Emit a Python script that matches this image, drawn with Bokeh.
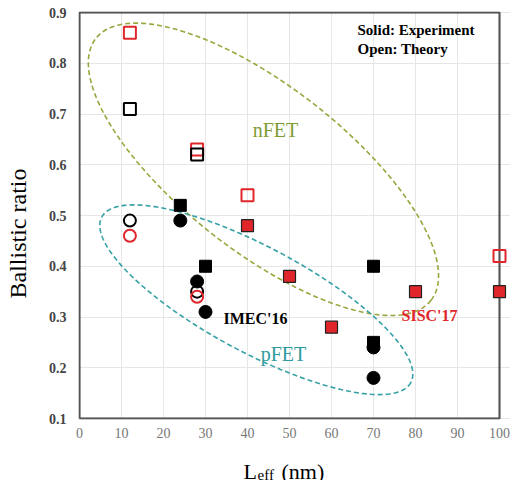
import numpy as np
from bokeh.plotting import figure
from bokeh.layouts import column
from bokeh.models import Range1d, Label, FixedTicker, BoxAnnotation, Title
from bokeh.core.properties import value
from bokeh.embed import file_html
from bokeh.resources import INLINE

# ---- data ----
x_ticks = [0, 10, 20, 30, 40, 50, 60, 70, 80, 90, 100]
y_ticks = [0.1, 0.2, 0.3, 0.4, 0.5, 0.6, 0.7, 0.8, 0.9]

sisc_theory_sq_x = [12, 28, 40, 100]
sisc_theory_sq_y = [0.86, 0.63, 0.54, 0.42]
imec_theory_sq_x = [12, 28]
imec_theory_sq_y = [0.71, 0.62]
imec_exp_sq_x = [24, 30, 70, 70]
imec_exp_sq_y = [0.52, 0.40, 0.40, 0.25]
sisc_exp_sq_x = [40, 50, 60, 80, 100]
sisc_exp_sq_y = [0.48, 0.38, 0.28, 0.35, 0.35]
imec_exp_circ_x = [24, 28, 30, 70, 70]
imec_exp_circ_y = [0.49, 0.37, 0.31, 0.24, 0.18]
imec_theory_circ_x = [12, 28]
imec_theory_circ_y = [0.49, 0.35]
sisc_theory_circ_x = [12, 28]
sisc_theory_circ_y = [0.46, 0.34]

# ellipse annotations: centre, two conjugate semi-axis vectors (data units)
nfet_center = (43.8, 0.591)
nfet_u = (39.9, -0.258)
nfet_v = (-12.1, -0.128)
pfet_center = (42.1, 0.334)
pfet_u = (36.8, -0.163)
pfet_v = (-5.9, -0.0914)

RED = "#e0262b"
OLIVE = "#9aa63c"
TEAL = "#35a0a6"
FRAME = "#555555"
SERIF = "Liberation Serif"

XS = 4.2      # px per nm
YS = 507.5    # px per unit ratio
X_RANGE = (x_ticks[0] - 1 / XS, x_ticks[-1] + 12 / XS)

p = figure(frame_width=433, frame_height=408, output_backend="svg",
           toolbar_location=None,
           x_range=Range1d(*X_RANGE),
           y_range=Range1d(y_ticks[0] - 1 / YS, y_ticks[-1] + 1 / YS),
           min_border_left=77, min_border_right=0, min_border_top=11,
           min_border_bottom=32)
p.background_fill_color = "white"
p.border_fill_color = "white"
p.outline_line_color = None

p.xaxis.ticker = FixedTicker(ticks=x_ticks)
p.yaxis.ticker = FixedTicker(ticks=y_ticks)
for ax in (p.xaxis[0], p.yaxis[0]):
    ax.axis_line_color = None
    ax.major_tick_line_color = None
    ax.minor_tick_line_color = None
    ax.major_tick_out = 0
    ax.major_tick_in = 0
    ax.minor_tick_out = 0
    ax.minor_tick_in = 0
    ax.major_label_text_font = SERIF
p.xaxis.major_label_text_font_size = "14px"
p.xaxis.major_label_text_color = "#777777"
p.xaxis.major_label_standoff = 8
p.yaxis.major_label_text_font_size = "14px"
p.yaxis.major_label_text_font_style = "bold"
p.yaxis.major_label_text_color = "#444444"
p.yaxis.major_label_standoff = 12
p.yaxis.formatter.use_scientific = False
p.xgrid.grid_line_color = "#e6e6e6"
p.ygrid.grid_line_color = "#e6e6e6"

# y-axis title: a thin blank spacer, then the title nudged along the axis
p.add_layout(Title(text=" ", text_font_size="1px", standoff=10), "left")
p.add_layout(Title(text="Ballistic ratio", align="left", offset=121,
                   text_font=SERIF, text_font_size="24px",
                   text_font_style="normal", text_color="black",
                   standoff=4), "left")

# plot frame (box around the axes area)
p.add_layout(BoxAnnotation(left=x_ticks[0], right=x_ticks[-1],
                           bottom=y_ticks[0], top=y_ticks[-1],
                           fill_color=None, fill_alpha=0,
                           line_color=FRAME, line_width=2,
                           level="underlay"))
p.line([x_ticks[0], x_ticks[-1], x_ticks[-1], x_ticks[0], x_ticks[0]],
       [y_ticks[0], y_ticks[0], y_ticks[-1], y_ticks[-1], y_ticks[0]],
       line_color=FRAME, line_width=2)

# ellipses
t = np.linspace(0, 2 * np.pi, 300)
for c, u, v, col in ((nfet_center, nfet_u, nfet_v, OLIVE),
                     (pfet_center, pfet_u, pfet_v, TEAL)):
    ex = c[0] + u[0] * np.cos(t) + v[0] * np.sin(t)
    ey = c[1] + u[1] * np.cos(t) + v[1] * np.sin(t)
    p.line(ex, ey, line_color=col, line_width=1.6, line_dash="5 3")

# markers
p.scatter(sisc_theory_sq_x, sisc_theory_sq_y, marker="square", size=12,
          fill_color="white", fill_alpha=0, line_color=RED, line_width=2)
p.scatter(imec_theory_sq_x, imec_theory_sq_y, marker="square", size=12,
          fill_color="white", fill_alpha=0, line_color="black", line_width=2)
p.scatter(imec_exp_sq_x, imec_exp_sq_y, marker="square", size=12,
          fill_color="black", line_color="black")
p.scatter(sisc_exp_sq_x, sisc_exp_sq_y, marker="square", size=12,
          fill_color=RED, line_color="#222222", line_width=1.2)
p.scatter(imec_exp_circ_x, imec_exp_circ_y, marker="circle", size=13,
          fill_color="black", line_color="black")
p.scatter(imec_theory_circ_x, imec_theory_circ_y, marker="circle", size=12,
          fill_alpha=0, line_color="black", line_width=2)
p.scatter(sisc_theory_circ_x, sisc_theory_circ_y, marker="circle", size=12,
          fill_alpha=0, line_color=RED, line_width=2)

def px2x(px):
    return (px - 78) / XS

def px2y(py):
    return 0.9 - (py - 12) / YS

def lab(text, px, py, size, color="black", style="normal", align="left"):
    p.add_layout(Label(x=px2x(px), y=px2y(py), text=text, text_font=SERIF,
                       text_font_size=size, text_color=color,
                       text_font_style=style, text_align=align,
                       text_baseline="middle"))

lab("Solid: Experiment", 356, 29, "15px", style="bold")
lab("Open: Theory", 356, 48, "15px", style="bold")
lab("nFET", 274, 129, "20px", color="#7f9c33", align="center")
lab("pFET", 282, 353, "20px", color="#2e9b9e", align="center")
lab("IMEC'16", 222, 318, "16px", style="bold")
lab("SISC'17", 400, 315, "16px", color=RED, style="bold")

# x-axis title with subscript, in a strip below the plot
# (same horizontal scale as the plot; vertical pixels from the strip top)
STRIP_H = 29
xlab_parts = ["L", "eff", "(nm)"]
xlab_px = [242, 256, 280]
xlab_py = [20, 23, 20]
xlab_size = ["22px", "15px", "22px"]

q = figure(frame_width=433, frame_height=STRIP_H, output_backend="svg",
           toolbar_location=None, x_axis_location=None, y_axis_location=None,
           x_range=Range1d(*X_RANGE), y_range=Range1d(STRIP_H, 0),
           min_border=0, min_border_left=77, min_border_right=0,
           min_border_top=0, min_border_bottom=0)
q.grid.visible = False
q.outline_line_color = None
q.background_fill_color = "white"
q.border_fill_color = "white"
for txt, xx, yy, sz in zip(xlab_parts, xlab_px, xlab_py, xlab_size):
    q.text(x=[px2x(xx)], y=[yy], text=[txt], text_font=value(SERIF),
           text_font_size=sz, text_baseline="alphabetic", text_align="left",
           text_color="black")

layout = column(p, q, spacing=0)
open("out.html", "w").write(file_html(layout, INLINE))
